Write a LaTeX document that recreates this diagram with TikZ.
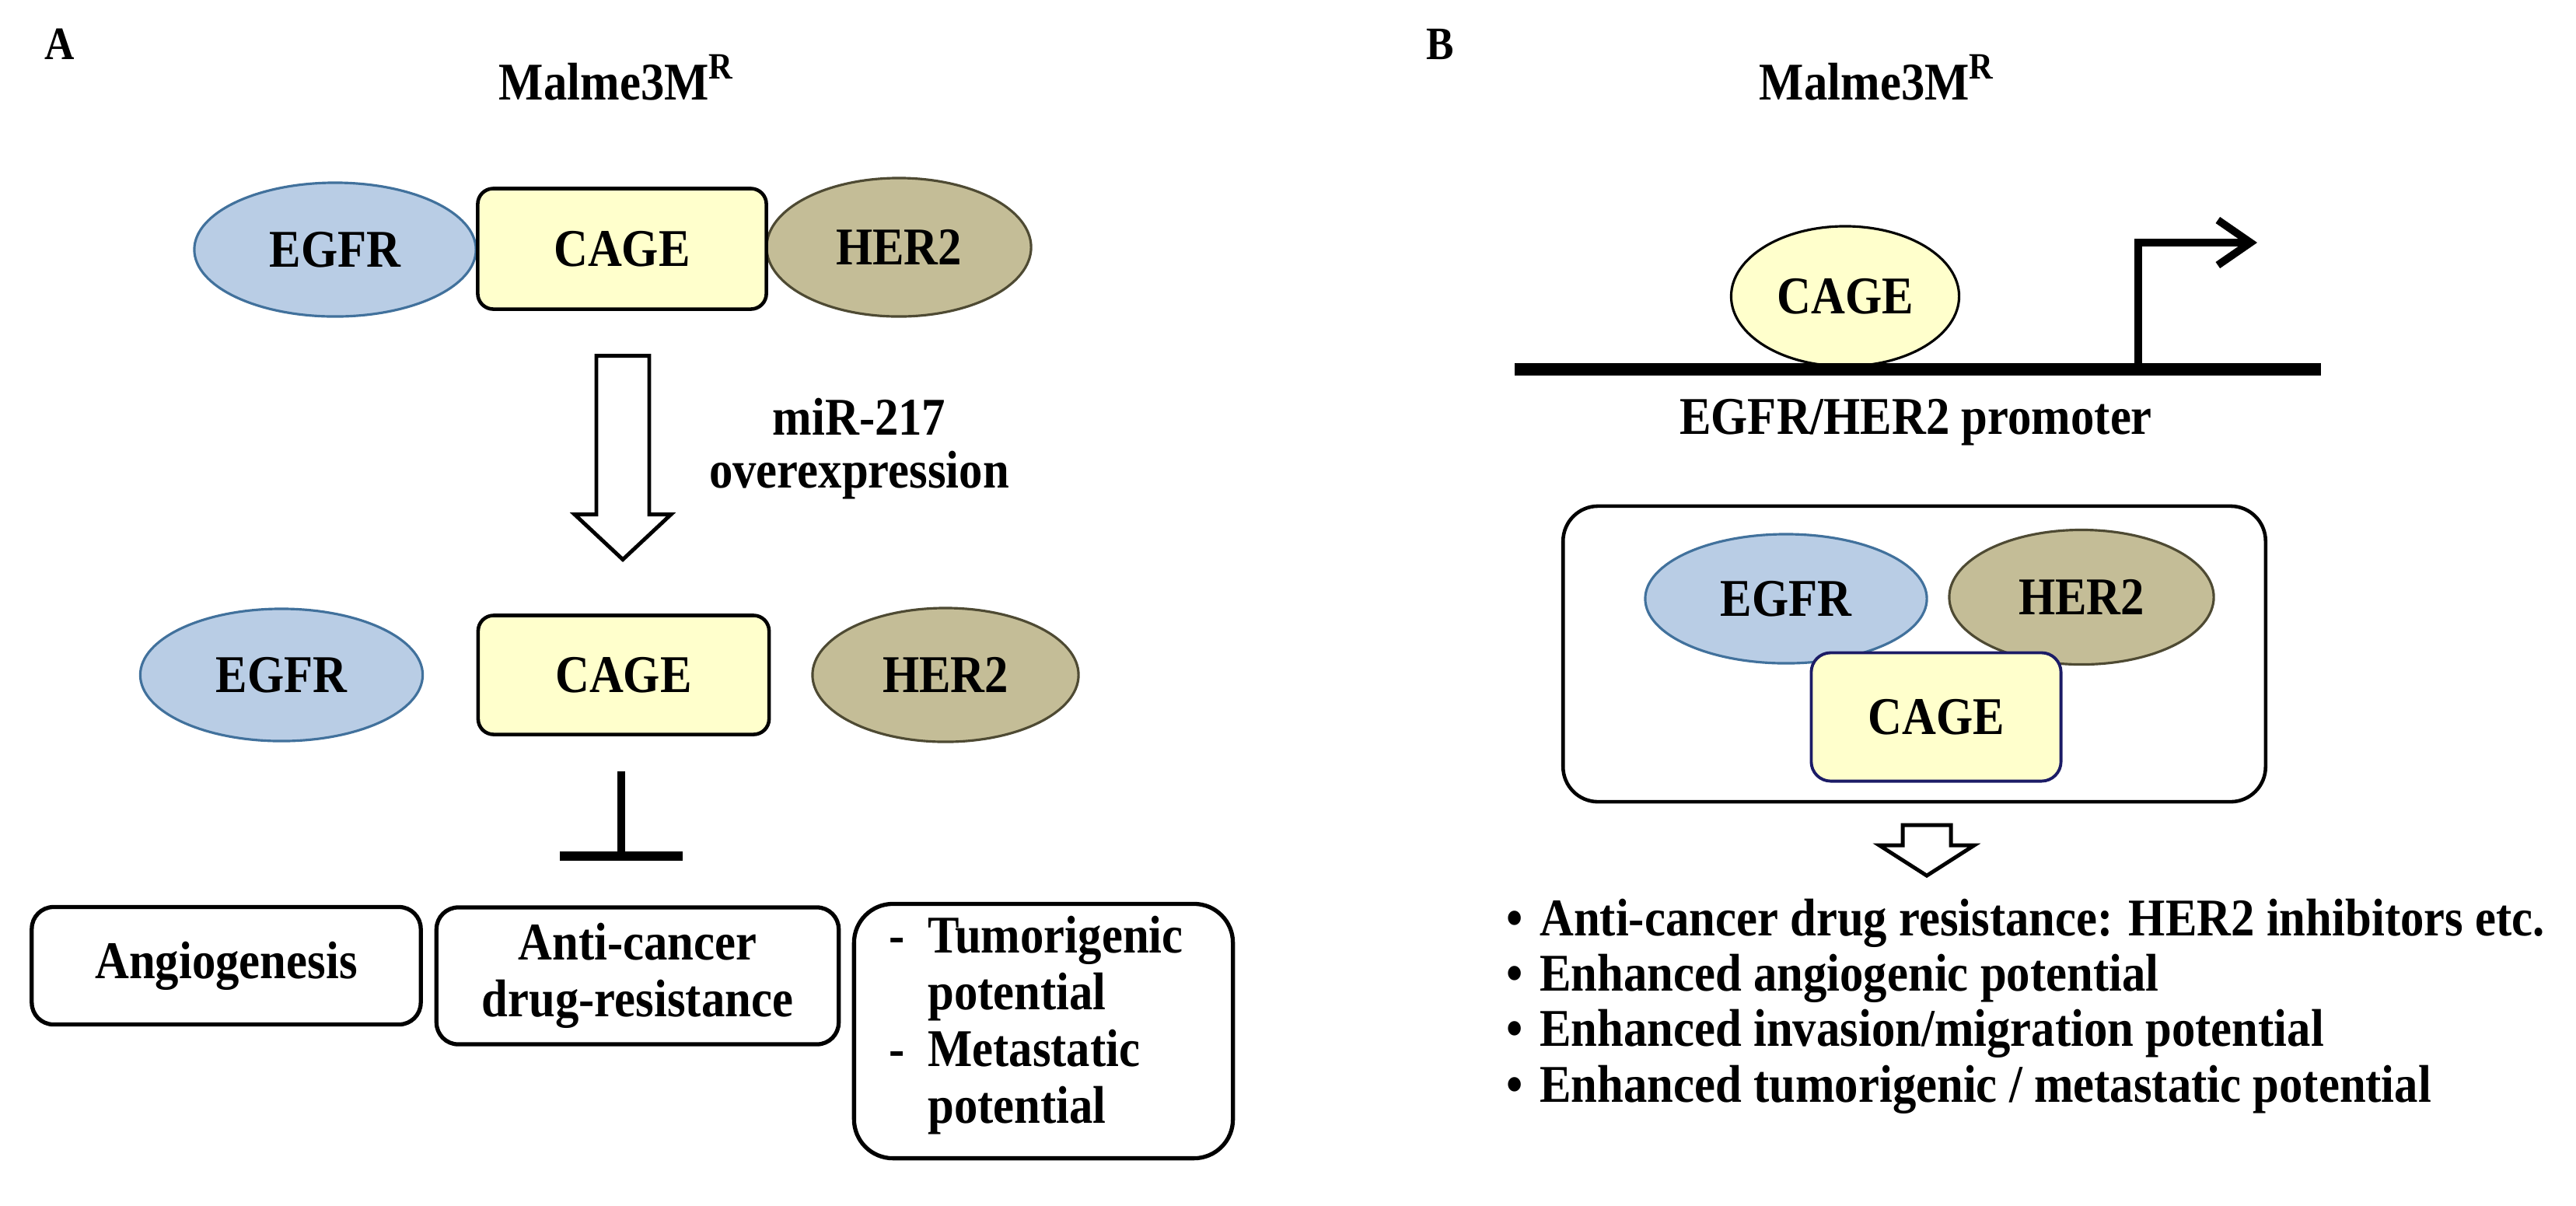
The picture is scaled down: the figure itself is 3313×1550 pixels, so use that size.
\documentclass[tikz,border=0pt]{standalone}
\usepackage{fontspec}
\setmainfont{Liberation Serif}[FakeStretch=0.89]
\usetikzlibrary{shapes.geometric,arrows.meta,calc}
\definecolor{egfrfill}{HTML}{B9CDE5}
\definecolor{egfrline}{HTML}{41719C}
\definecolor{herfill}{HTML}{C4BD97}
\definecolor{herline}{HTML}{4E4A33}
\definecolor{cagefill}{HTML}{FFFFCC}
\definecolor{cagenavy}{HTML}{1C1C66}
\newcommand\mainfs{\fontsize{19.4pt}{20.7pt}\selectfont\bfseries}
\newcommand\panelfs{\fontsize{17pt}{20pt}\selectfont\bfseries}
\begin{document}
\begin{tikzpicture}[x=0.01cm,y=-0.01cm,
  every node/.style={inner sep=0pt,outer sep=0pt,font=\mainfs},
  egfr/.style={ellipse,draw=egfrline,fill=egfrfill,line width=0.9pt},
  her/.style={ellipse,draw=herline,fill=herfill,line width=0.9pt},
  cagebox/.style={rectangle,rounded corners=0.2cm,draw=black,fill=cagefill,line width=1.3pt},
  outbox/.style={rectangle,rounded corners=0.28cm,draw=black,line width=1.5pt},
  blockarrow/.style={draw=black,fill=white,line width=1.4pt,line join=miter},
  panel/.style={font=\panelfs},
  inhib/.style={line width=2.9pt},
]
\fill[white] (0,0) rectangle (3313,1550);
\useasboundingbox (0,0) rectangle (3313,1550);

% ---------------- Panel A ----------------
\node[panel] (labA) at (77,57) {A};
\node[anchor=base] (titleA) at (793,128) {Malme3M\textsuperscript{R}};

\node[egfr,minimum width=3.62cm,minimum height=1.72cm] (e1) at (431,321) {EGFR};
\node[her,minimum width=3.40cm,minimum height=1.78cm] (h1) at (1156,318) {HER2};
\node[cagebox,minimum width=3.71cm,minimum height=1.55cm] (c1) at (800,320) {CAGE};

\coordinate (aA) at ($(c1.south)+(1,60)$);
\draw[blockarrow] ($(aA)+(-34,0)$) -- ++(68,0) -- ++(0,204) -- ++(28,0)
  -- ++(-62,58) -- ++(-62,-58) -- ++(28,0) -- cycle;

\node[align=center,font=\fontsize{19.4pt}{19.3pt}\selectfont\bfseries] (mir) at (1105,577) {miR-217\\overexpression};

\node[egfr,minimum width=3.63cm,minimum height=1.70cm] (e2) at (362,868) {EGFR};
\node[cagebox,minimum width=3.74cm,minimum height=1.53cm] (c2) at (802,868) {CAGE};
\node[her,minimum width=3.42cm,minimum height=1.72cm] (h2) at (1216,868) {HER2};

\coordinate (tTop) at ($(c2.south)+(-3,47)$);
\coordinate (tBot) at ($(tTop)+(0,109)$);
\draw[inhib] (tTop) -- (tBot);
\draw[line width=3.4pt] ($(tBot)+(-79,0)$) -- ($(tBot)+(79,0)$);

\node[outbox,minimum width=5.00cm,minimum height=1.51cm] (b1) at (291,1242) {Angiogenesis};
\node[outbox,minimum width=5.17cm,minimum height=1.76cm,align=center] (b2) at (820,1255) {Anti-cancer\\drug-resistance};
\node[outbox,rounded corners=0.5cm,minimum width=4.87cm,minimum height=3.27cm] (b3) at (1342,1326) {};
\node[anchor=north west] (t3) at (1143,1175) {\begin{tabular}{@{}l@{\hspace{0.3cm}}l@{}}
- & Tumorigenic\\ & potential\\ - & Metastatic\\ & potential\end{tabular}};

% ---------------- Panel B ----------------
\node[panel] (labB) at (1852,57) {B};
\node[anchor=base] (titleB) at (2414,128) {Malme3M\textsuperscript{R}};

\node[ellipse,draw=black,fill=cagefill,line width=0.9pt,minimum width=2.93cm,minimum height=1.80cm] (cB) at (2373,381) {CAGE};
\coordinate (pl) at (1948,475);
\coordinate (pr) at (2985,475);
\draw[line width=4.5pt] (pl) -- (pr);
\coordinate (tss) at (2750,471);
\coordinate (tse) at (2903,312);
\draw[line width=2.8pt,-{Straight Barb[length=0.42cm,width=0.58cm]}] (tss) |- (tse);

\node[anchor=base] (prom) at (2464,558) {EGFR/HER2 promoter};

\node[rectangle,rounded corners=0.45cm,draw=black,line width=1.3pt,minimum width=9.03cm,minimum height=3.80cm] (boxB) at (2462,841) {};
\node[egfr,minimum width=3.62cm,minimum height=1.66cm] (eB) at (2297,770) {EGFR};
\node[her,minimum width=3.40cm,minimum height=1.73cm] (hB) at (2677,768) {HER2};
\node[rectangle,rounded corners=0.25cm,draw=cagenavy,fill=cagefill,line width=1.1pt,minimum width=3.21cm,minimum height=1.65cm] (cB2) at (2490,922) {CAGE};

\coordinate (aB) at ($(boxB.south)+(16,30)$);
\draw[blockarrow] ($(aB)+(-31,0)$) -- ++(62,0) -- ++(0,26) -- ++(30,0)
  -- ++(-61,39) -- ++(-61,-39) -- ++(30,0) -- cycle;

\node[anchor=north west,font=\fontsize{19.4pt}{20.3pt}\selectfont\bfseries] (bul) at (1937,1153) {\begin{tabular}{@{}l@{\hspace{0.22cm}}l@{}}
\textbullet & Anti-cancer drug resistance: HER2 inhibitors etc.\\
\textbullet & Enhanced angiogenic potential\\
\textbullet & Enhanced invasion/migration potential\\
\textbullet & Enhanced tumorigenic / metastatic potential
\end{tabular}};
\end{tikzpicture}
\end{document}
